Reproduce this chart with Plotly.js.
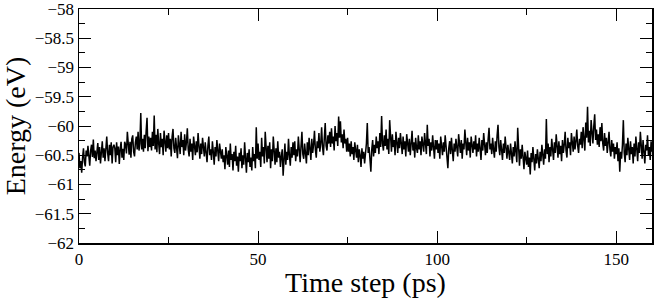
<!DOCTYPE html>
<html>
<head>
<meta charset="utf-8">
<script src="https://cdn.plot.ly/plotly-3.0.1.min.js"></script>
<style>html,body{margin:0;padding:0;background:#fff;}#chart{width:654px;height:298px;}</style>
</head>
<body>
<div id="chart"></div>
<script>
// Sampling interval of the trajectory (ps)
const timeStep = 0.25;

// Total energy (eV), every 0.25 ps from 0 to 160 ps (20 values per 5 ps row)
const energy = [
  -60.46,-60.72,-60.60,-60.80,-60.54,-60.38,-60.62,-60.69,-60.42,-60.52,-60.34,-60.60,-60.68,-60.42,-60.32,-60.53,-60.23,-60.55,-60.42,-60.60,
  -60.49,-60.29,-60.58,-60.36,-60.64,-60.42,-60.26,-60.54,-60.38,-60.60,-60.30,-60.18,-60.46,-60.60,-60.32,-60.50,-60.28,-60.64,-60.36,-60.32,
  -60.38,-60.62,-60.28,-60.50,-60.35,-60.65,-60.40,-60.27,-60.54,-60.39,-60.58,-60.27,-60.32,-60.47,-60.10,-60.42,-60.49,-60.27,-60.54,-60.22,
  -60.16,-60.44,-60.52,-60.28,-60.18,-60.40,-60.10,-60.42,-60.30,-59.78,-60.40,-60.22,-60.44,-60.15,-60.38,-60.08,-59.86,-60.43,-60.18,-60.36,
  -60.20,-60.42,-60.10,-60.34,-59.82,-60.40,-60.15,-60.45,-60.05,-60.30,-60.48,-60.12,-60.36,-60.22,-60.50,-60.08,-60.32,-60.44,-60.16,-60.38,
  -60.12,-60.40,-60.22,-60.52,-60.18,-60.05,-60.38,-60.46,-60.20,-60.34,-60.55,-60.16,-60.30,-60.48,-60.10,-60.36,-60.24,-60.50,-60.14,-60.42,
  -60.28,-60.04,-60.40,-60.52,-60.22,-60.44,-60.30,-60.58,-60.18,-60.36,-60.50,-60.26,-60.45,-60.12,-60.40,-60.56,-60.30,-60.48,-60.20,-60.42,
  -60.52,-60.28,-60.46,-60.62,-60.34,-60.18,-60.50,-60.40,-60.58,-60.26,-60.44,-60.66,-60.36,-60.52,-60.24,-60.48,-60.60,-60.30,-60.45,-60.56,
  -60.40,-60.62,-60.50,-60.74,-60.36,-60.56,-60.66,-60.42,-60.70,-60.30,-60.58,-60.48,-60.76,-60.44,-60.60,-60.34,-60.68,-60.52,-60.78,-60.46,
  -60.60,-60.38,-60.72,-60.50,-60.66,-60.28,-60.58,-60.80,-60.46,-60.62,-60.40,-60.70,-60.54,-60.76,-60.36,-60.60,-60.48,-60.72,-60.02,-60.56,
  -60.30,-60.58,-60.44,-60.70,-60.20,-60.52,-60.36,-60.64,-60.10,-60.46,-60.62,-60.34,-60.56,-60.28,-60.72,-60.40,-60.60,-60.18,-60.50,-60.66,
  -60.38,-60.62,-60.26,-60.54,-60.44,-60.70,-60.52,-60.40,-60.85,-60.48,-60.30,-60.66,-60.44,-60.58,-60.22,-60.50,-60.68,-60.36,-60.54,-60.28,
  -60.50,-60.26,-60.60,-60.40,-60.52,-60.18,-60.46,-60.62,-60.34,-60.10,-60.48,-60.56,-60.30,-60.44,-60.64,-60.28,-60.50,-60.20,-60.42,-60.58,
  -60.22,-60.46,-60.32,-60.08,-60.40,-60.54,-60.26,-60.38,-60.12,-60.44,-60.30,-60.02,-60.36,-60.50,-60.20,-59.95,-60.34,-60.42,-60.16,-60.30,
  -60.10,-60.36,-60.04,-60.30,-60.18,-60.42,-60.00,-60.26,-60.12,-60.34,-59.84,-60.20,-59.92,-60.28,-60.14,-60.38,-60.06,-60.30,-60.22,-60.44,
  -60.20,-60.44,-60.30,-60.52,-60.26,-60.48,-60.36,-60.58,-60.28,-60.46,-60.54,-60.32,-60.62,-60.40,-60.50,-60.70,-60.38,-60.56,-60.44,-60.64,
  -60.50,-60.30,-59.95,-60.46,-60.36,-60.58,-60.78,-60.40,-60.24,-60.52,-60.32,-60.46,-60.18,-60.38,-60.26,-60.48,-60.12,-60.36,-59.83,-60.30,
  -60.42,-60.16,-60.34,-60.06,-60.40,-60.22,-60.48,-59.90,-60.30,-60.44,-60.14,-60.36,-60.24,-60.50,-60.10,-60.32,-60.46,-60.20,-60.38,-60.12,
  -60.34,-60.48,-60.18,-60.40,-60.26,-60.52,-60.14,-60.36,-60.44,-60.22,-60.50,-60.30,-60.08,-60.42,-60.28,-60.54,-60.20,-60.38,-60.46,-60.16,
  -60.40,-60.26,-60.50,-60.18,-60.36,-60.44,-60.12,-60.30,-60.48,-59.98,-60.34,-60.22,-60.52,-60.28,-60.42,-60.16,-60.38,-60.56,-60.24,-60.40,
  -60.24,-60.46,-60.30,-60.56,-60.18,-60.40,-60.50,-60.28,-60.44,-60.16,-60.36,-60.54,-60.72,-60.38,-60.26,-60.48,-60.20,-60.42,-60.60,-60.30,
  -60.44,-60.22,-60.38,-60.52,-60.14,-60.34,-60.46,-60.24,-60.56,-60.30,-60.40,-60.06,-60.36,-60.50,-60.20,-60.42,-60.28,-60.54,-60.18,-60.38,
  -60.46,-60.26,-60.40,-60.16,-60.52,-60.30,-60.44,-60.20,-60.36,-60.58,-60.24,-60.42,-60.12,-60.38,-60.50,-60.28,-60.46,-60.22,-60.03,-60.40,
  -60.30,-60.48,-60.20,-60.40,-60.54,-60.26,-60.44,-60.16,-59.98,-60.36,-60.50,-60.24,-60.42,-60.58,-60.30,-60.46,-60.18,-60.40,-60.56,-60.32,
  -60.44,-60.58,-60.30,-60.50,-60.64,-60.36,-60.52,-60.26,-60.46,-60.62,-60.03,-60.48,-60.68,-60.40,-60.56,-60.32,-60.60,-60.74,-60.44,-60.58,
  -60.66,-60.42,-60.70,-60.54,-60.83,-60.46,-60.62,-60.36,-60.58,-60.76,-60.48,-60.64,-60.40,-60.56,-60.72,-60.44,-60.60,-60.32,-60.52,-60.66,
  -60.40,-60.56,-59.88,-60.48,-60.30,-60.62,-60.36,-60.52,-60.22,-60.44,-60.58,-60.28,-60.46,-60.14,-60.40,-60.54,-60.26,-60.48,-60.34,-60.60,
  -60.24,-60.46,-60.32,-60.10,-60.42,-60.54,-60.20,-60.38,-60.28,-60.50,-60.12,-60.36,-60.44,-60.18,-60.40,-60.26,-60.06,-60.34,-60.46,-60.22,
  -60.32,-60.10,-60.38,-60.02,-60.26,-60.42,-59.94,-60.20,-59.67,-60.28,-60.08,-60.34,-59.90,-60.18,-60.30,-60.00,-59.80,-60.24,-60.06,-60.32,
  -60.14,-60.36,-60.02,-60.26,-59.95,-60.30,-60.42,-60.12,-60.34,-60.20,-60.46,-60.28,-60.10,-60.40,-60.52,-60.24,-60.44,-60.30,-60.56,-60.36,
  -60.48,-60.28,-60.60,-60.38,-60.78,-60.44,-60.56,-60.32,-59.90,-60.46,-60.62,-60.30,-60.50,-60.20,-60.44,-60.58,-60.26,-60.48,-60.36,-60.64,
  -60.30,-60.52,-60.18,-60.44,-60.60,-60.28,-60.46,-60.10,-60.38,-60.56,-60.24,-60.48,-60.64,-60.32,-60.42,-60.16,-60.50,-60.36,-60.58,-60.26,
  -60.44
];
const time = energy.map((_, i) => i * timeStep);

const xTitle = "Time step (ps)";
const yTitle = "Energy (eV)";

const font = "Liberation Serif, Times New Roman, Times, serif";

Plotly.newPlot("chart", [{
  x: time,
  y: energy,
  type: "scatter",
  mode: "lines",
  line: {color: "#000", width: 1.5},
  hoverinfo: "skip"
}], {
  width: 654,
  height: 298,
  margin: {l: 79, r: 2, t: 9, b: 55},
  paper_bgcolor: "#fff",
  plot_bgcolor: "#fff",
  showlegend: false,
  font: {family: font, color: "#000", size: 17},
  xaxis: {
    range: [0, 160],
    dtick: 50,
    tick0: 0,
    ticks: "inside",
    ticklen: 12,
    tickwidth: 1,
    tickcolor: "#000",
    minor: {dtick: 25, ticks: "inside", ticklen: 6, tickwidth: 1, tickcolor: "#000"},
    showline: true,
    linecolor: "#000",
    linewidth: 1.5,
    mirror: "allticks",
    showgrid: false,
    zeroline: false,
    tickfont: {family: font, size: 17, color: "#000"},
    ticklabeloverflow: "allow",
    title: {text: xTitle, font: {family: font, size: 28, color: "#000"}, standoff: 6},
    automargin: false
  },
  yaxis: {
    range: [-62, -58],
    dtick: 0.5,
    tick0: -62,
    ticks: "inside",
    ticklen: 12,
    tickwidth: 1,
    tickcolor: "#000",
    minor: {dtick: 0.25, ticks: "inside", ticklen: 6, tickwidth: 1, tickcolor: "#000"},
    showline: true,
    linecolor: "#000",
    linewidth: 1.5,
    mirror: "allticks",
    showgrid: false,
    zeroline: false,
    tickfont: {family: font, size: 17, color: "#000"},
    ticklabeloverflow: "allow",
    title: {text: yTitle, font: {family: font, size: 28, color: "#000"}, standoff: 8},
    automargin: false
  }
}, {staticPlot: true, displayModeBar: false});
</script>
</body>
</html>
